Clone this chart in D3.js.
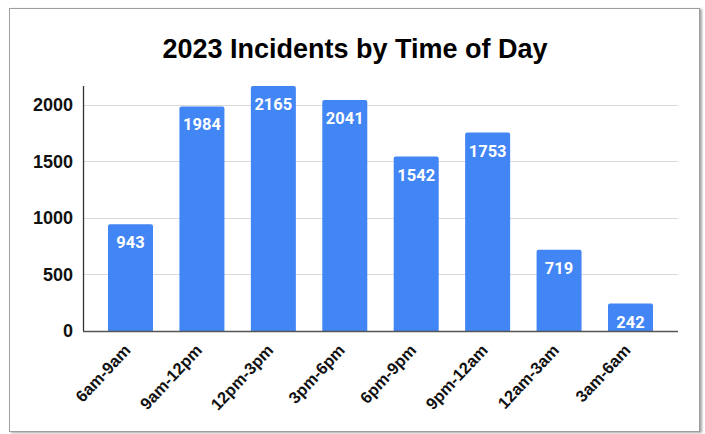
<!DOCTYPE html>
<html lang="en">
<head>
  <meta charset="UTF-8">
  <title>2023 Incidents by Time of Day</title>
  <script src="https://d3js.org/d3.v7.min.js"></script>
  <style>
    body { margin: 0; background: #fff; }
  </style>
</head>
<body>
  <div id="viz"></div>

  <script>
    const categories = ['6am-9am', '9am-12pm', '12pm-3pm', '3pm-6pm', '6pm-9pm', '9pm-12am', '12am-3am', '3am-6am'];
    const incidents = [943, 1984, 2165, 2041, 1542, 1753, 719, 242];
    const yTicks = [0, 500, 1000, 1500, 2000];

    const W = 705, H = 434;
    const plotLeft = 83, plotRight = 678, plotBottom = 331, plotTop = 86;

    const svg = d3.select('#viz')
      .append('svg')
        .attr('width', W)
        .attr('height', H);

    // frame with a soft shadow on the right
    const defs = svg.append('defs');
    const f = defs.append('filter').attr('id', 'shadow')
      .attr('x', '-5%').attr('y', '-5%').attr('width', '110%').attr('height', '110%');
    f.append('feDropShadow')
      .attr('dx', 2).attr('dy', 1).attr('stdDeviation', 1.2)
      .attr('flood-color', '#000').attr('flood-opacity', 0.35);

    svg.append('rect')
      .attr('x', 9.5).attr('y', 8.5)
      .attr('width', 690).attr('height', 423)
      .attr('fill', '#fff')
      .attr('stroke', '#9e9e9e')
      .attr('filter', 'url(#shadow)');

    svg.append('text')
      .attr('x', 355).attr('y', 58)
      .attr('text-anchor', 'middle')
      .style('font-family', '"Liberation Sans", Arial, sans-serif')
      .style('font-weight', 'bold')
      .style('font-size', '27px')
      .text('2023 Incidents by Time of Day');

    const x = d3.scaleBand()
      .domain(categories)
      .range([plotLeft, plotRight])
      .paddingInner(0.37)
      .paddingOuter(0.35);

    const y = d3.scaleLinear()
      .domain([0, d3.max(incidents)])
      .range([plotBottom, plotTop]);

    // gridlines
    svg.append('g')
      .selectAll('line')
      .data(yTicks.filter(d => d > 0))
      .join('line')
        .attr('x1', plotLeft).attr('x2', plotRight)
        .attr('y1', d => Math.round(y(d)) + 0.5)
        .attr('y2', d => Math.round(y(d)) + 0.5)
        .attr('stroke', '#d9d9d9')
        .attr('stroke-width', 1.2);

    // y tick labels
    svg.append('g')
      .selectAll('text')
      .data(yTicks)
      .join('text')
        .attr('x', 73)
        .attr('y', d => y(d))
        .attr('dy', '0.36em')
        .attr('text-anchor', 'end')
        .style('font-family', '"Liberation Sans", Arial, sans-serif')
        .style('font-weight', 'bold')
        .style('font-size', '18px')
        .attr('fill', '#111')
        .text(d => d);

    // bars, slightly rounded at the top
    const r = 2;
    const data = categories.map((c, i) => ({ c, v: incidents[i] }));
    svg.append('g')
      .selectAll('path')
      .data(data)
      .join('path')
        .attr('fill', '#4285f4')
        .attr('d', d => {
          const x0 = x(d.c), x1 = x0 + x.bandwidth(), y0 = y(d.v), yb = y(0);
          return `M${x0},${yb}V${y0 + r}Q${x0},${y0} ${x0 + r},${y0}H${x1 - r}Q${x1},${y0} ${x1},${y0 + r}V${yb}Z`;
        });

    // value labels
    svg.append('g')
      .selectAll('text')
      .data(data)
      .join('text')
        .attr('x', d => x(d.c) + x.bandwidth() / 2)
        .attr('y', d => y(d.v) + 24)
        .attr('text-anchor', 'middle')
        .style('font-family', 'Roboto, "Noto Sans", sans-serif')
        .style('font-weight', 'bold')
        .style('font-size', '16.5px')
        .attr('fill', '#fff')
        .text(d => d.v);

    // axes lines
    svg.append('line')
      .attr('x1', plotLeft + 0.5).attr('x2', plotLeft + 0.5)
      .attr('y1', plotTop).attr('y2', plotBottom)
      .attr('stroke', '#333').attr('stroke-width', 1.3);
    svg.append('line')
      .attr('x1', plotLeft).attr('x2', plotRight)
      .attr('y1', plotBottom + 0.5).attr('y2', plotBottom + 0.5)
      .attr('stroke', '#555').attr('stroke-width', 1.3);

    // rotated category labels
    svg.append('g')
      .selectAll('text')
      .data(categories)
      .join('text')
        .attr('transform', d => `translate(${x(d) + x.bandwidth() / 2 + 1},${351}) rotate(-47)`)
        .attr('text-anchor', 'end')
        .style('font-family', '"Liberation Sans", Arial, sans-serif')
        .style('font-weight', 'bold')
        .style('font-size', '16.5px')
        .attr('fill', '#111')
        .text(d => d);
  </script>
</body>
</html>
